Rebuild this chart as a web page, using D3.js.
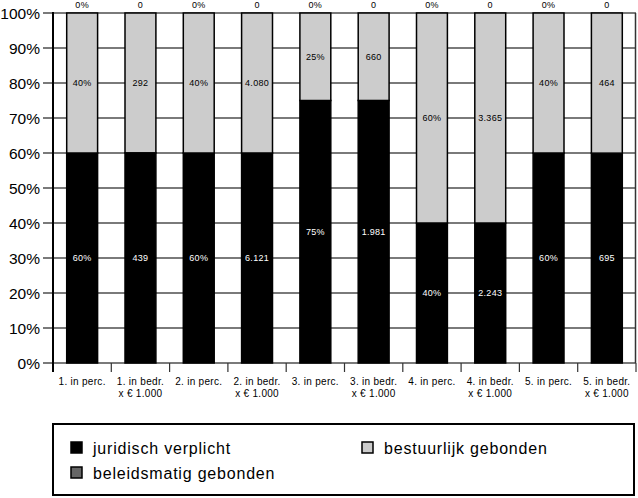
<!DOCTYPE html>
<html><head><meta charset="utf-8">
<script src="https://cdn.jsdelivr.net/npm/d3@7"></script>
<style>body{margin:0;background:#fff}svg{display:block}text{font-family:"Liberation Sans",Arial,sans-serif}</style>
</head><body>
<svg id="c" width="638" height="498"></svg>
<script>
const categories = ["1. in perc.|", "1. in bedr.|x € 1.000", "2. in perc.|", "2. in bedr.|x € 1.000", "3. in perc.|", "3. in bedr.|x € 1.000", "4. in perc.|", "4. in bedr.|x € 1.000", "5. in perc.|", "5. in bedr.|x € 1.000"];
const isPerc = [true, false, true, false, true, false, true, false, true, false];
const juridisch = [60, 439, 60, 6121, 75, 1981, 40, 2243, 60, 695];
const beleidsmatig = [0, 0, 0, 0, 0, 0, 0, 0, 0, 0];
const bestuurlijk = [40, 292, 40, 4080, 25, 660, 60, 3365, 40, 464];
const yTicks = [0, 0.1, 0.2, 0.3, 0.4, 0.5, 0.6, 0.7, 0.8, 0.9, 1];
const seriesNames = ["juridisch verplicht", "beleidsmatig gebonden", "bestuurlijk gebonden"];
const seriesColors = ["#000000", "#666666", "#cccccc"];

const rows = categories.map((c, i) => ({cat: c, j: juridisch[i], b: beleidsmatig[i], s: bestuurlijk[i], perc: isPerc[i]}));
const keys = ["j", "b", "s"];
const stacked = d3.stack().keys(keys).offset(d3.stackOffsetExpand)(rows);

const svg = d3.select("#c");
const L = 53, R = 636, T = 13, B = 363;
const x = d3.scaleBand().domain(categories).range([L, R]).paddingInner(0.47).paddingOuter(0.235);
const xb = d3.scaleBand().domain(categories).range([L, R]);
const y = d3.scaleLinear().domain([0, 1]).range([B, T]);

// grid
svg.append("g").selectAll("line").data(yTicks).join("line")
  .attr("x1", 43).attr("x2", R).attr("y1", d => y(d)).attr("y2", d => y(d))
  .attr("stroke", "#7a7a7a").attr("stroke-width", 2);

// y labels
svg.append("g").selectAll("text").data(yTicks).join("text")
  .attr("x", 40).attr("y", d => y(d)).attr("dy", "0.36em").attr("text-anchor", "end")
  .attr("font-size", 15.5).attr("fill", "#000").text(d => d3.format(".0%")(d));

// x ticks
const bounds = categories.map(c => xb(c)).concat([R]);
svg.append("g").selectAll("line").data(bounds.slice(1)).join("line")
  .attr("x1", d => d).attr("x2", d => d).attr("y1", B).attr("y2", 372)
  .attr("stroke", "#333").attr("stroke-width", 1.2);

// right border
svg.append("line").attr("x1", R - 0.5).attr("x2", R - 0.5).attr("y1", T).attr("y2", B)
  .attr("stroke", "#333").attr("stroke-width", 1.5);

// bars
const colorByKey = {j: seriesColors[0], b: seriesColors[1], s: seriesColors[2]};
stacked.forEach(layer => {
  svg.append("g").selectAll("rect").data(layer).join("rect")
    .attr("x", d => x(d.data.cat)).attr("width", x.bandwidth())
    .attr("y", d => y(d[1])).attr("height", d => y(d[0]) - y(d[1]))
    .attr("fill", colorByKey[layer.key]).attr("stroke", "#000").attr("stroke-width", 1.5);
});

// left axis
svg.append("line").attr("x1", L).attr("x2", L).attr("y1", T - 1).attr("y2", 372)
  .attr("stroke", "#000").attr("stroke-width", 2);

// labels
const fmtN = v => d3.format(",")(v).replace(/,/g, ".");
stacked.forEach(layer => {
  svg.append("g").selectAll("text").data(layer).join("text")
    .attr("x", d => x(d.data.cat) + x.bandwidth() / 2)
    .attr("y", d => layer.key === "b" ? 5 : (y(d[0]) + y(d[1])) / 2)
    .attr("dy", "0.35em").attr("text-anchor", "middle").attr("font-size", 9)
    .attr("letter-spacing", 0.3)
    .attr("fill", layer.key === "j" ? "#fff" : "#000")
    .text(d => {
      const v = d.data[layer.key];
      return d.data.perc ? Math.round(d[1] * 100 - d[0] * 100) + "%" : fmtN(v);
    });
});

// x labels
const xl = svg.append("g").selectAll("text").data(categories).join("text")
  .attr("x", d => xb(d) + xb.bandwidth() / 2).attr("text-anchor", "middle")
  .attr("font-size", 10).attr("letter-spacing", 0.3).attr("fill", "#000");
xl.append("tspan").attr("x", d => xb(d) + xb.bandwidth() / 2).attr("y", 385).text(d => d.split("|")[0]);
xl.append("tspan").attr("x", d => xb(d) + xb.bandwidth() / 2).attr("y", 397).text(d => d.split("|")[1]);

// legend
svg.append("rect").attr("x", 53).attr("y", 424).attr("width", 581).attr("height", 71)
  .attr("fill", "#fff").attr("stroke", "#000").attr("stroke-width", 2);
const legendPos = [[71, 442], [71, 467], [362, 442]];
seriesNames.forEach((n, i) => {
  const [lx, ly] = legendPos[i];
  svg.append("rect").attr("x", lx).attr("y", ly).attr("width", 11).attr("height", 11)
    .attr("fill", seriesColors[i]).attr("stroke", "#000").attr("stroke-width", 1.5);
  svg.append("text").attr("x", lx + 22).attr("y", ly + 6).attr("dy", "0.35em")
    .attr("font-size", 16).attr("letter-spacing", 0.8).attr("fill", "#000").text(n);
});
</script>
</body></html>
